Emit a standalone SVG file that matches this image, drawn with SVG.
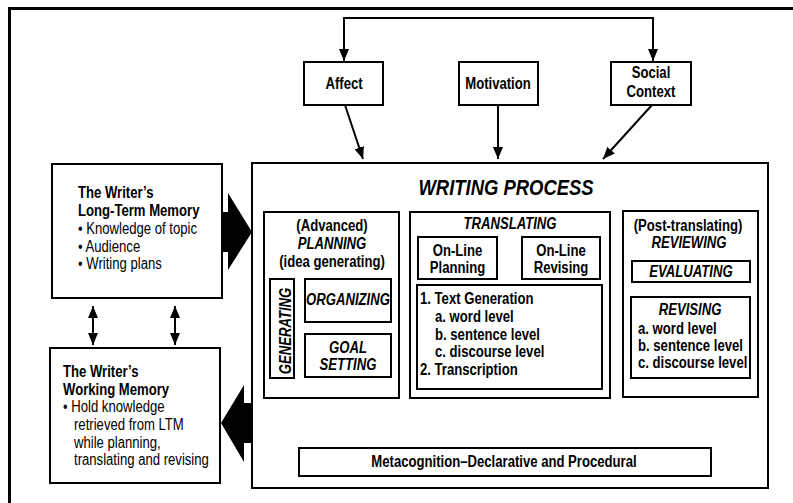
<svg xmlns="http://www.w3.org/2000/svg" width="793" height="503" viewBox="0 0 793 503">
<defs>
<style>
text{font-family:"Liberation Sans",Arial,sans-serif;fill:#000;}
.b{font-weight:bold;font-size:16px;}
.r{font-size:16px;}
.bi{font-weight:bold;font-style:italic;font-size:16px;}
.c{text-anchor:middle;}
.box{fill:#fff;stroke:#000;stroke-width:2;}
.ln{fill:none;stroke:#000;stroke-width:2;}
</style>
<marker id="ah" viewBox="0 0 12 10" refX="12" refY="5" markerWidth="12" markerHeight="10" markerUnits="userSpaceOnUse" orient="auto-start-reverse">
<path d="M0,0 L12,5 L0,10 Z" fill="#000"/>
</marker>
</defs>
<rect width="793" height="503" fill="#fff"/>
<path d="M9.5,503 V8.5 H793" fill="none" stroke="#000" stroke-width="3"/>

<g id="connectors">
<polyline class="ln" points="344,61 344,18 653,18 653,61" marker-start="url(#ah)" marker-end="url(#ah)"/>
<line class="ln" x1="345" y1="105" x2="363" y2="159" marker-end="url(#ah)"/>
<line class="ln" x1="498" y1="105" x2="498" y2="159" marker-end="url(#ah)"/>
<line class="ln" x1="652" y1="105" x2="603" y2="159" marker-end="url(#ah)"/>
<line class="ln" x1="93" y1="306" x2="93" y2="345" marker-start="url(#ah)" marker-end="url(#ah)"/>
<line class="ln" x1="175" y1="306" x2="175" y2="345" marker-start="url(#ah)" marker-end="url(#ah)"/>
<line class="ln" x1="336" y1="400" x2="336" y2="447" marker-start="url(#ah)" marker-end="url(#ah)"/>
<line class="ln" x1="509" y1="400" x2="509" y2="447" marker-start="url(#ah)" marker-end="url(#ah)"/>
<line class="ln" x1="684" y1="400" x2="684" y2="446" marker-start="url(#ah)" marker-end="url(#ah)"/>
<polygon points="222,212 228,212 228,193 252,232 228,270 228,252 222,252" fill="#000"/>
<polygon points="252,403 244,403 244,385 221,423 244,462 244,443 252,443" fill="#000"/>
</g>

<g id="affect">
<rect class="box" x="304" y="62" width="79" height="43"/>
<text class="b c" transform="translate(344,88.5) scale(.82,1)">Affect</text>
</g>
<g id="motivation">
<rect class="box" x="459" y="62" width="79" height="43"/>
<text class="b c" transform="translate(498,88.5) scale(.82,1)">Motivation</text>
</g>
<g id="social-context">
<rect class="box" x="611" y="62" width="80" height="43"/>
<text class="b c" transform="translate(651,77.5) scale(.82,1)">Social</text>
<text class="b c" transform="translate(651,96.5) scale(.82,1)">Context</text>
</g>

<g id="ltm">
<rect class="box" x="52" y="164" width="170" height="134"/>
<text class="b" transform="translate(78,197.5) scale(.82,1)">The Writer’s</text>
<text class="b" transform="translate(78,215.5) scale(.82,1)">Long-Term Memory</text>
<text class="r" transform="translate(78,233.5) scale(.82,1)">• Knowledge of topic</text>
<text class="r" transform="translate(78,251.5) scale(.82,1)">• Audience</text>
<text class="r" transform="translate(78,269) scale(.82,1)">• Writing plans</text>
</g>

<g id="wm">
<rect class="box" x="50" y="348" width="170" height="135"/>
<text class="b" transform="translate(63,376.5) scale(.82,1)">The Writer’s</text>
<text class="b" transform="translate(63,394.5) scale(.82,1)">Working Memory</text>
<text class="r" transform="translate(63,412) scale(.82,1)">• Hold knowledge</text>
<text class="r" transform="translate(74,430) scale(.82,1)">retrieved from LTM</text>
<text class="r" transform="translate(74,447.5) scale(.82,1)">while planning,</text>
<text class="r" transform="translate(74,465) scale(.82,1)">translating and revising</text>
</g>

<g id="writing-process">
<rect class="box" x="252" y="163" width="516" height="325"/>
<text class="bi c" style="font-size:22.5px" transform="translate(506,195) scale(.82,1)">WRITING PROCESS</text>
</g>

<g id="planning">
<rect class="box" x="264" y="212" width="135" height="186"/>
<text class="b c" transform="translate(332,231) scale(.82,1)">(Advanced)</text>
<text class="bi c" transform="translate(332,249) scale(.82,1)">PLANNING</text>
<text class="b c" transform="translate(332,266.5) scale(.82,1)">(idea generating)</text>
</g>
<g id="generating">
<rect class="box" x="270" y="279" width="24" height="99"/>
<text class="bi c" transform="translate(291,331) rotate(-90) scale(.82,1)">GENERATING</text>
</g>
<g id="organizing">
<rect class="box" x="305" y="279" width="86" height="43"/>
<text class="bi c" transform="translate(348,304.5) scale(.82,1)">ORGANIZING</text>
</g>
<g id="goal-setting">
<rect class="box" x="305" y="334" width="86" height="43"/>
<text class="bi c" transform="translate(348,353) scale(.82,1)">GOAL</text>
<text class="bi c" transform="translate(348,370) scale(.82,1)">SETTING</text>
</g>

<g id="translating">
<rect class="box" x="410" y="212" width="200" height="186"/>
<text class="bi c" transform="translate(510,229) scale(.82,1)">TRANSLATING</text>
</g>
<g id="online-planning">
<rect class="box" x="418" y="237" width="79" height="42"/>
<text class="b c" transform="translate(457.5,256) scale(.82,1)">On-Line</text>
<text class="b c" transform="translate(457.5,273) scale(.82,1)">Planning</text>
</g>
<g id="online-revising">
<rect class="box" x="522" y="237" width="78" height="42"/>
<text class="b c" transform="translate(561,256) scale(.82,1)">On-Line</text>
<text class="b c" transform="translate(561,273) scale(.82,1)">Revising</text>
</g>
<g id="text-generation">
<rect class="box" x="417" y="285" width="185" height="104"/>
<text class="b" transform="translate(420,304) scale(.82,1)">1. Text Generation</text>
<text class="b" transform="translate(435,321.5) scale(.82,1)">a. word level</text>
<text class="b" transform="translate(435,339.5) scale(.82,1)">b. sentence level</text>
<text class="b" transform="translate(435,357) scale(.82,1)">c. discourse level</text>
<text class="b" transform="translate(420,374.5) scale(.82,1)">2. Transcription</text>
</g>

<g id="reviewing">
<rect class="box" x="623" y="211" width="135" height="186"/>
<text class="b c" transform="translate(688,231) scale(.82,1)">(Post-translating)</text>
<text class="bi c" transform="translate(689,247.5) scale(.82,1)">REVIEWING</text>
</g>
<g id="evaluating">
<rect class="box" x="632" y="261" width="118" height="21"/>
<text class="bi c" transform="translate(691,277) scale(.82,1)">EVALUATING</text>
</g>
<g id="revising">
<rect class="box" x="631" y="297" width="119" height="81"/>
<text class="bi c" transform="translate(690,315) scale(.82,1)">REVISING</text>
<text class="b" transform="translate(638,333.5) scale(.82,1)">a. word level</text>
<text class="b" transform="translate(638,351) scale(.82,1)">b. sentence level</text>
<text class="b" transform="translate(638,368) scale(.82,1)">c. discourse level</text>
</g>

<g id="metacognition">
<rect class="box" x="299" y="448" width="412" height="28"/>
<text class="b c" transform="translate(504,467) scale(.82,1)">Metacognition–Declarative and Procedural</text>
</g>
</svg>
